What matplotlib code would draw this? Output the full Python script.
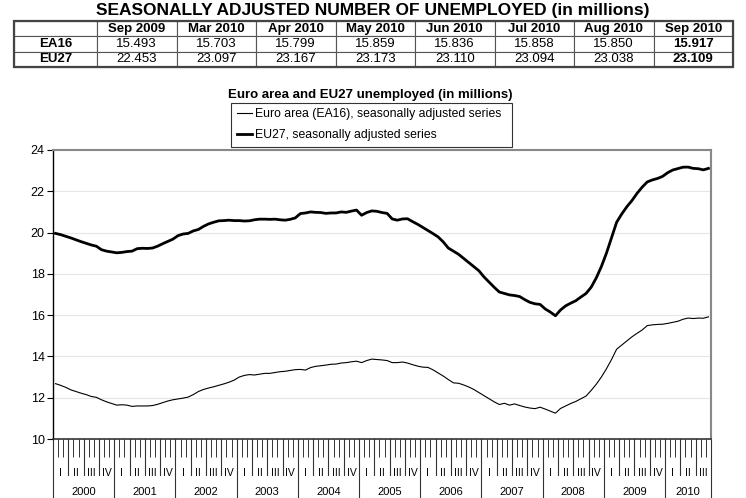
import matplotlib
matplotlib.use('Agg')
import matplotlib.pyplot as plt
import matplotlib.transforms as mtransforms
from matplotlib.patches import Rectangle
import numpy as np

# table at the top
table_cols = ['Sep 2009', 'Mar 2010', 'Apr 2010', 'May 2010', 'Jun 2010',
              'Jul 2010', 'Aug 2010', 'Sep 2010']
table_rows = ['EA16', 'EU27']
table_ea16 = ['15.493', '15.703', '15.799', '15.859', '15.836', '15.858', '15.850', '15.917']
table_eu27 = ['22.453', '23.097', '23.167', '23.173', '23.110', '23.094', '23.038', '23.109']

# category axis
years = ['2000', '2001', '2002', '2003', '2004', '2005', '2006', '2007', '2008', '2009', '2010']
quarters = ['I', 'II', 'III', 'IV']

# monthly series, Jan 2000 .. Sep 2010 (millions)
eu27 = [
    19.96, 19.90, 19.82, 19.74, 19.65, 19.56, 19.48, 19.40, 19.34, 19.17, 19.10, 19.06,
    19.02, 19.04, 19.08, 19.10, 19.22, 19.24, 19.23, 19.25, 19.34, 19.46, 19.57, 19.68,
    19.85, 19.93, 19.96, 20.08, 20.15, 20.30, 20.42, 20.50, 20.57, 20.58, 20.60, 20.58,
    20.58, 20.56, 20.57, 20.62, 20.65, 20.65, 20.64, 20.65, 20.62, 20.60, 20.64, 20.71,
    20.92, 20.95, 21.00, 20.98, 20.97, 20.93, 20.95, 20.95, 21.00, 20.98, 21.04, 21.09,
    20.84, 20.97, 21.05, 21.03, 20.97, 20.93, 20.66, 20.60, 20.66, 20.67, 20.53, 20.40,
    20.25, 20.10, 19.95, 19.79, 19.55, 19.25, 19.10, 18.95, 18.75, 18.55, 18.35, 18.15,
    17.85, 17.60, 17.35, 17.12, 17.05, 16.98, 16.95, 16.90, 16.75, 16.62, 16.55, 16.52,
    16.30, 16.15, 15.97, 16.25, 16.45, 16.58, 16.70, 16.88, 17.05, 17.35, 17.80, 18.35,
    19.00, 19.75, 20.50, 20.90, 21.25, 21.55, 21.90, 22.20, 22.453, 22.55, 22.62, 22.72,
    22.90, 23.03, 23.097, 23.167, 23.173, 23.110, 23.094, 23.038, 23.109,
]
ea16 = [
    12.68, 12.60, 12.50, 12.38, 12.30, 12.22, 12.15, 12.06, 12.02, 11.90, 11.80, 11.72,
    11.64, 11.66, 11.64, 11.58, 11.60, 11.60, 11.60, 11.62, 11.68, 11.76, 11.84, 11.90,
    11.94, 11.98, 12.03, 12.15, 12.30, 12.40, 12.47, 12.53, 12.60, 12.67, 12.75, 12.85,
    13.00, 13.08, 13.12, 13.10, 13.14, 13.18, 13.18, 13.22, 13.26, 13.28, 13.32, 13.36,
    13.37, 13.34, 13.46, 13.52, 13.55, 13.58, 13.62, 13.63, 13.68, 13.70, 13.74, 13.77,
    13.70, 13.80, 13.87, 13.85, 13.83, 13.80, 13.70, 13.70, 13.73, 13.68, 13.60, 13.53,
    13.48, 13.47, 13.35, 13.20, 13.05, 12.88, 12.72, 12.70, 12.62, 12.52, 12.40, 12.25,
    12.10, 11.95, 11.80, 11.67, 11.73, 11.64, 11.70, 11.62, 11.55, 11.50, 11.47, 11.54,
    11.45, 11.35, 11.25, 11.48, 11.60, 11.72, 11.82, 11.95, 12.08, 12.35, 12.65, 13.00,
    13.40, 13.85, 14.35, 14.55, 14.75, 14.95, 15.12, 15.28, 15.493, 15.53, 15.55, 15.56,
    15.60, 15.65, 15.703, 15.799, 15.859, 15.836, 15.858, 15.850, 15.917,
]

plt.rcParams['font.family'] = ['Liberation Sans', 'DejaVu Sans']

W, H = 746, 498
fig = plt.figure(figsize=(W / 100, H / 100), dpi=100)


def fx(px):
    return px / W


def fy(py):
    return 1 - py / H


fig.text(0.5, fy(10), 'SEASONALLY ADJUSTED NUMBER OF UNEMPLOYED (in millions)',
         ha='center', va='center', fontsize=12.5, fontweight='bold')

# --- table ---
tax = fig.add_axes([fx(14), fy(67), fx(733) - fx(14), fy(21) - fy(67)])
tax.axis('off')
cell_text = [[''] + table_cols,
             [table_rows[0]] + table_ea16,
             [table_rows[1]] + table_eu27]
first = 83 / 719
rest = (1 - first) / len(table_cols)
tbl = tax.table(cellText=cell_text, colWidths=[first] + [rest] * len(table_cols),
                bbox=[0, 0, 1, 1], cellLoc='center')
tbl.auto_set_font_size(False)
for (r, c), cell in tbl.get_celld().items():
    cell.set_edgecolor('#555555')
    cell.set_linewidth(0.8)
    txt = cell.get_text()
    txt.set_fontsize(9.5)
    if r == 0 or c == 0 or c == len(table_cols):
        txt.set_fontweight('bold')
tax.add_patch(Rectangle((0, 0), 1, 1, fill=False, lw=1.6, ec='#444444',
                        transform=tax.transAxes, clip_on=False))

# --- chart ---
fig.text(fx(370), fy(95), 'Euro area and EU27 unemployed (in millions)',
         ha='center', va='center', fontsize=9.5, fontweight='bold')

ax = fig.add_axes([fx(53), fy(439), fx(711) - fx(53), fy(150) - fy(439)])
n = len(eu27)
x = np.arange(n) + 0.5
ax.plot(x, ea16, color='black', lw=0.8, label='Euro area (EA16), seasonally adjusted series')
ax.plot(x, eu27, color='black', lw=2.0, label='EU27, seasonally adjusted series')

ax.set_xlim(0, n)
ax.set_ylim(10, 24)
ax.set_yticks(range(10, 25, 2))
ax.yaxis.grid(True, color='#e6e6e6', lw=0.8)
ax.set_axisbelow(True)
ax.tick_params(axis='y', direction='out', length=4, width=0.8, labelsize=9, pad=2)

ax.set_xticks(np.arange(0, n + 1))
ax.set_xticklabels([])
ax.tick_params(axis='x', direction='out', length=13, width=0.7, color='#333333')

ax.spines['left'].set_color('black')
ax.spines['left'].set_linewidth(1.0)
ax.spines['bottom'].set_color('#333333')
ax.spines['bottom'].set_linewidth(1.2)
for side in ('top', 'right'):
    ax.spines[side].set_color('#888888')
    ax.spines[side].set_linewidth(1.5)

# quarter and year separators below the axis
trans = mtransforms.blended_transform_factory(ax.transData, ax.transAxes)
for q in range(0, n + 1, 3):
    depth = -0.205 if (q % 12 == 0 or q == n) else -0.125
    ax.plot([q, q], [0, depth], transform=trans, clip_on=False, color='#333333', lw=0.8)

for i, yr in enumerate(years):
    nq = 4 if i < len(years) - 1 else 3
    for k in range(nq):
        ax.text(i * 12 + k * 3 + 1.5, -0.118, quarters[k], transform=trans,
                ha='center', va='center', fontsize=7.5)
    ax.text(i * 12 + nq * 1.5, -0.182, yr, transform=trans,
            ha='center', va='center', fontsize=8)

leg = ax.legend(loc='upper left',
                bbox_to_anchor=(fx(231), fy(147), fx(512) - fx(231), fy(103) - fy(147)),
                bbox_transform=fig.transFigure, mode='expand', frameon=True, fancybox=False,
                edgecolor='black', fontsize=8.8, handlelength=1.3, handletextpad=0.25,
                labelspacing=0.7, borderpad=0.45, borderaxespad=0)
leg.get_frame().set_linewidth(0.8)

fig.savefig('out.png', dpi=100)
